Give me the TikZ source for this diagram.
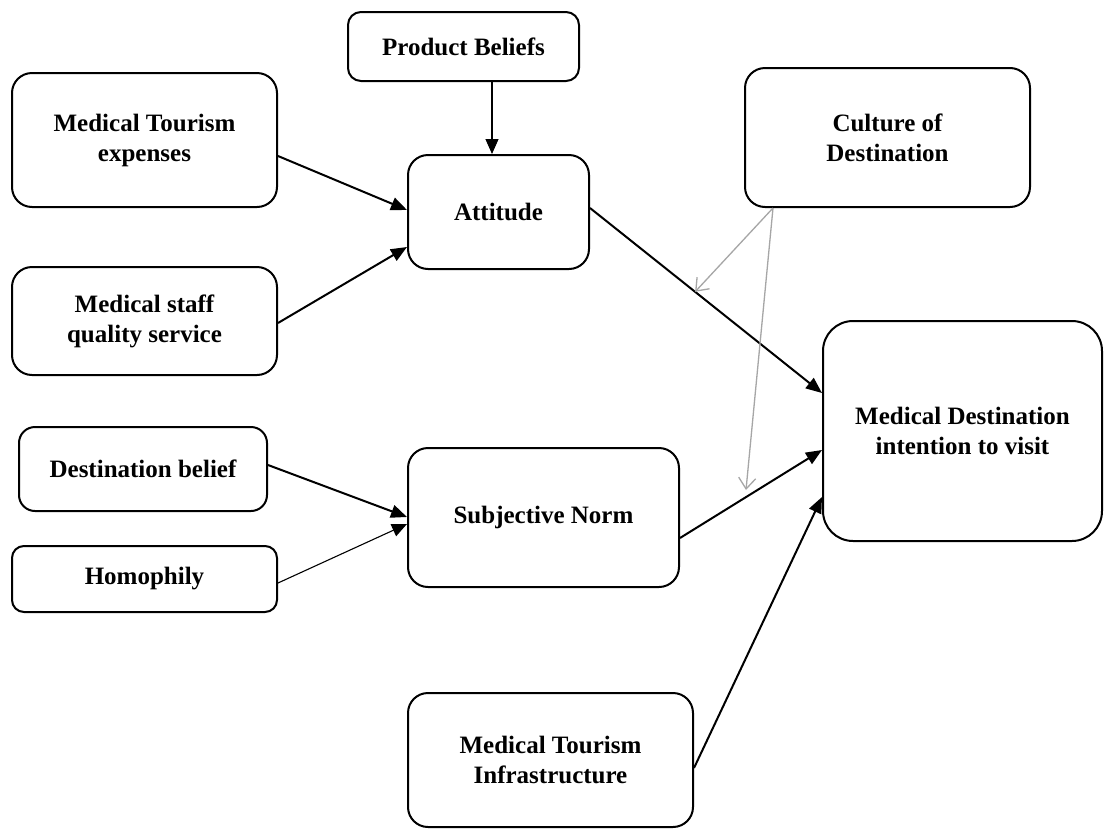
\documentclass[tikz,border=0pt]{standalone}
\usepackage{fontspec}
\setmainfont{Liberation Serif}
\usetikzlibrary{arrows.meta,calc}
\definecolor{modgray}{RGB}{166,166,166}
\begin{document}
\begin{tikzpicture}[x=1pt,y=-1pt,
  box/.style={draw,line width=2pt,rounded corners=20pt,inner sep=0pt,align=center,
    font=\fontsize{25pt}{30pt}\selectfont\bfseries},
  link/.style={line width=2pt,-{Triangle[length=16pt,width=13pt]}},
  thinlink/.style={line width=1.1pt,-{Triangle[length=15pt,width=13pt]}},
  modlink/.style={draw=modgray,line width=1.3pt,-{Straight Barb[length=11pt,width=17pt]}}]
\useasboundingbox (0,0) rectangle (1104,828);
\fill[white] (0,0) rectangle (1104,828);
\begin{scope}
\clip (0,0) rectangle (1104,828);
% constructs
\node[box,rounded corners=13pt,minimum width=231pt,minimum height=69pt] (pb) at (463.5,46.5) {Product Beliefs};
\node[box,minimum width=265pt,minimum height=134pt] (exp) at (144.5,140) {Medical Tourism\\expenses};
\node[box,minimum width=181pt,minimum height=114pt] (att) at (498.5,212) {Attitude};
\node[box,minimum width=285pt,minimum height=139pt] (cul) at (887.5,137.5) {Culture of\\Destination};
\node[box,minimum width=265pt,minimum height=108pt] (staff) at (144.5,321) {Medical staff\\quality service};
\node[box,rounded corners=30pt,minimum width=279pt,minimum height=220pt] (mdi) at (962.5,431) {Medical Destination\\intention to visit};
\node[box,rounded corners=16pt,minimum width=248pt,minimum height=84pt] (db) at (143,469) {Destination belief};
\node[box,minimum width=271pt,minimum height=139pt] (sn) at (543.5,517.5) {Subjective Norm};
\node[box,rounded corners=12pt,minimum width=265pt,minimum height=66pt] (hom) at (144.5,579) {Homophily};
\node[box,minimum width=285pt,minimum height=134pt] (inf) at (550.5,760) {Medical Tourism\\Infrastructure};
% paths
\draw[thinlink] ([xshift=-6.5pt]att.north |- pb.south) -- ([xshift=-6.5pt]att.north);
\draw[link] ([yshift=-16pt]exp.east) -- ([yshift=2pt]att.west);
\draw[link] ([yshift=-2pt]staff.east) -- ([yshift=-35pt]att.west);
\draw[link] ([yshift=4pt]db.east) -- ([yshift=0.5pt]sn.west);
\draw[thinlink] ([yshift=-4pt]hom.east) -- ([yshift=-6.5pt]sn.west);
\coordinate (attout) at ([yshift=4pt]att.east);
\coordinate (mdiA) at ([yshift=38pt]mdi.west);
\draw[link] (attout) -- (mdiA);
\draw[link] ([yshift=-20.5pt]sn.east) -- ([yshift=-19pt]mdi.west);
\draw[link] ([yshift=-8pt]inf.east) -- ([yshift=-66pt]mdi.west);
% moderating effects
\coordinate (modsrc) at ([xshift=-114.5pt]cul.south);
\coordinate (modA) at ($(attout)!0.453!(mdiA)$);
\coordinate (modB) at (746,490);
\draw[modlink] (modsrc) -- (modA);
\draw[modlink] (modsrc) -- (modB);
\end{scope}
\end{tikzpicture}
\end{document}
